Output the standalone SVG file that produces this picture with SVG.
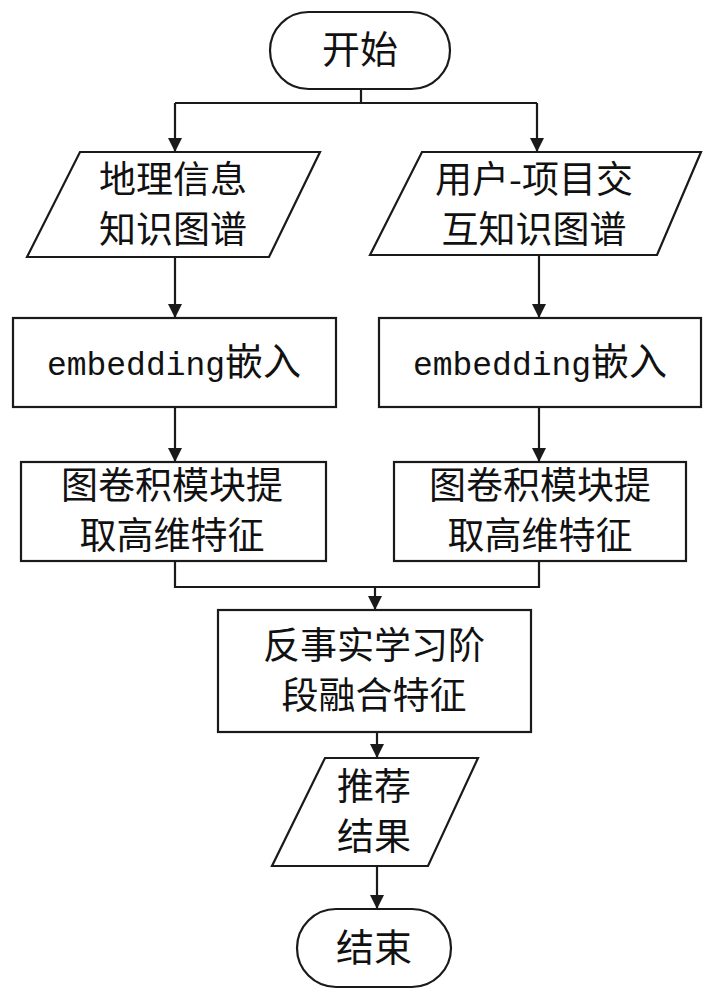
<svg xmlns="http://www.w3.org/2000/svg" width="712" height="1000" viewBox="0 0 712 1000">
<style>
.shape{fill:#fff;stroke:#1a1a1a;stroke-width:2.2}
.t{font-family:"Noto Sans CJK SC","Noto Sans",sans-serif;font-size:37px;fill:#111;text-anchor:middle}
.big{font-size:38px}
.mono{font-family:"Liberation Mono",monospace;font-size:33px}
.c{fill:none;stroke:#1a1a1a;stroke-width:2.2}
</style>
<defs>
<marker id="arr" markerUnits="userSpaceOnUse" markerWidth="14" markerHeight="14" viewBox="0 0 14 14" refX="14" refY="7" orient="auto">
<path d="M0,0 L14,7 L0,14 z" fill="#1a1a1a"/>
</marker>
</defs>
<g id="connectors">
<path class="c" d="M361,89 V103 M175,103 H537"/>
<path class="c" d="M175,103 V152" marker-end="url(#arr)"/>
<path class="c" d="M537,103 V152" marker-end="url(#arr)"/>
<path class="c" d="M175,257 V318" marker-end="url(#arr)"/>
<path class="c" d="M539,255 V318" marker-end="url(#arr)"/>
<path class="c" d="M175,407 V462" marker-end="url(#arr)"/>
<path class="c" d="M539,407 V462" marker-end="url(#arr)"/>
<path class="c" d="M175,561 V587 H539 V561"/>
<path class="c" d="M375,587 V610" marker-end="url(#arr)"/>
<path class="c" d="M377,732 V758" marker-end="url(#arr)"/>
<path class="c" d="M377,866 V909" marker-end="url(#arr)"/>
</g>
<g id="start">
<rect class="shape" x="270" y="12" width="180" height="77" rx="38.5"/>
<text class="t big" x="360" y="63">开始</text>
</g>
<g id="geo-kg">
<polygon class="shape" points="80,152 320,152 269,257 27,257"/>
<text class="t" x="173" y="193">地理信息</text>
<text class="t" x="173" y="243">知识图谱</text>
</g>
<g id="ui-kg">
<polygon class="shape" points="422,152 701,152 657,255 370,255"/>
<text class="t" x="534" y="193">用户-项目交</text>
<text class="t" x="534" y="243">互知识图谱</text>
</g>
<g id="embed-left">
<rect class="shape" x="13" y="318" width="323" height="89"/>
<text class="t big" x="174" y="375"><tspan class="mono">embedding</tspan>嵌入</text>
</g>
<g id="embed-right">
<rect class="shape" x="379" y="318" width="322" height="89"/>
<text class="t big" x="540" y="375"><tspan class="mono">embedding</tspan>嵌入</text>
</g>
<g id="gcn-left">
<rect class="shape" x="21" y="462" width="305" height="99"/>
<text class="t" x="172" y="499">图卷积模块提</text>
<text class="t" x="172" y="549">取高维特征</text>
</g>
<g id="gcn-right">
<rect class="shape" x="394" y="462" width="292" height="99"/>
<text class="t" x="540" y="499">图卷积模块提</text>
<text class="t" x="540" y="549">取高维特征</text>
</g>
<g id="fusion">
<rect class="shape" x="218" y="610" width="313" height="122"/>
<text class="t" x="374" y="659">反事实学习阶</text>
<text class="t" x="374" y="709">段融合特征</text>
</g>
<g id="result">
<polygon class="shape" points="325,758 478,758 428,866 272,866"/>
<text class="t" x="374" y="800">推荐</text>
<text class="t" x="374" y="850">结果</text>
</g>
<g id="end">
<rect class="shape" x="297" y="909" width="154" height="78" rx="39"/>
<text class="t big" x="374" y="961">结束</text>
</g>
</svg>
